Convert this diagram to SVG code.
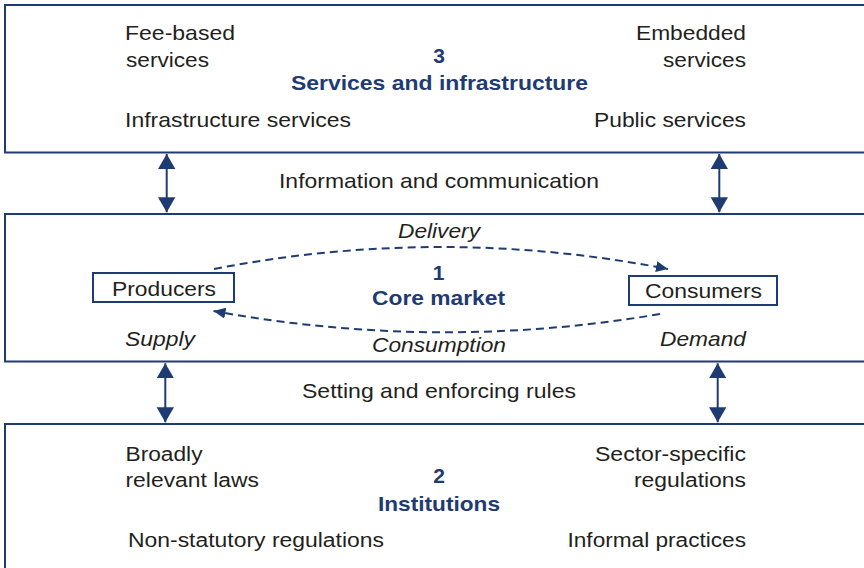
<svg xmlns="http://www.w3.org/2000/svg" width="864" height="568" viewBox="0 0 864 568">
<style>
.panel{fill:#fff;stroke:#1f3b73;stroke-width:2}
.actor{fill:#fff;stroke:#1f3b73;stroke-width:2}
.t{font-family:"Liberation Sans",Arial,sans-serif;font-size:21px;fill:#231f20}
.b{font-family:"Liberation Sans",Arial,sans-serif;font-size:21px;font-weight:bold;fill:#1f3b73}
.i{font-style:italic}
.s{font-size:20px}
.link{fill:none;stroke:#1f3b73;stroke-width:2}
.dash{fill:none;stroke:#1f3b73;stroke-width:2;stroke-dasharray:8 5}
</style>
<defs>
<marker id="big" markerUnits="userSpaceOnUse" markerWidth="15" markerHeight="18" refX="15" refY="8.7" orient="auto-start-reverse" viewBox="0 0 15 17.4">
<path d="M0,0 L15,8.7 L0,17.4 z" fill="#1f3b73"/>
</marker>
<marker id="small" markerUnits="userSpaceOnUse" markerWidth="12" markerHeight="11" refX="12" refY="5.5" orient="auto" viewBox="0 0 12 11">
<path d="M0,0 L12,5.5 L0,11 z" fill="#1f3b73"/>
</marker>
</defs>
<rect width="864" height="568" fill="#fff"/>

<g id="services">
<rect class="panel" x="5" y="5" width="870" height="147.5"/>
<text class="t" x="125" y="40" textLength="110" lengthAdjust="spacingAndGlyphs">Fee-based</text>
<text class="t" x="126" y="66.5" textLength="83" lengthAdjust="spacingAndGlyphs">services</text>
<text class="t" x="125" y="126.5" textLength="226" lengthAdjust="spacingAndGlyphs">Infrastructure services</text>
<text class="t" x="636" y="40" textLength="110" lengthAdjust="spacingAndGlyphs">Embedded</text>
<text class="t" x="663" y="66.5" textLength="83" lengthAdjust="spacingAndGlyphs">services</text>
<text class="t" x="594" y="126.5" textLength="152" lengthAdjust="spacingAndGlyphs">Public services</text>
<text class="b" x="439" y="63" text-anchor="middle">3</text>
<text class="b" x="291" y="90" textLength="297" lengthAdjust="spacingAndGlyphs">Services and infrastructure</text>
</g>

<g id="core-market">
<rect class="panel" x="5" y="214" width="870" height="147.5"/>
<text class="b" x="438.5" y="280" text-anchor="middle">1</text>
<text class="b" x="372" y="305" textLength="133" lengthAdjust="spacingAndGlyphs">Core market</text>
<text class="t i" x="125" y="346" textLength="70" lengthAdjust="spacingAndGlyphs">Supply</text>
<text class="t i" x="660" y="345.5" textLength="86" lengthAdjust="spacingAndGlyphs">Demand</text>
</g>

<g id="producers">
<rect class="actor" x="93" y="273" width="141" height="29"/>
<text class="t" x="112" y="296" textLength="104" lengthAdjust="spacingAndGlyphs">Producers</text>
</g>

<g id="consumers">
<rect class="actor" x="629" y="276" width="148" height="29"/>
<text class="t" x="645" y="297.5" textLength="117" lengthAdjust="spacingAndGlyphs">Consumers</text>
</g>

<g id="institutions">
<rect class="panel" x="5" y="424" width="870" height="160"/>
<text class="t s" x="125.5" y="461" textLength="77" lengthAdjust="spacingAndGlyphs">Broadly</text>
<text class="t s" x="125.5" y="487" textLength="133.5" lengthAdjust="spacingAndGlyphs">relevant laws</text>
<text class="t s" x="595" y="461" textLength="151" lengthAdjust="spacingAndGlyphs">Sector-specific</text>
<text class="t s" x="634" y="487" textLength="112" lengthAdjust="spacingAndGlyphs">regulations</text>
<text class="t s" x="128" y="547" textLength="256" lengthAdjust="spacingAndGlyphs">Non-statutory regulations</text>
<text class="t s" x="567.5" y="547" textLength="178.5" lengthAdjust="spacingAndGlyphs">Informal practices</text>
<text class="b" x="439" y="483" text-anchor="middle">2</text>
<text class="b" x="378" y="511" textLength="122" lengthAdjust="spacingAndGlyphs">Institutions</text>
</g>

<g id="connectors">
<line class="link" x1="166.7" y1="154" x2="166.7" y2="212.3" marker-start="url(#big)" marker-end="url(#big)"/>
<line class="link" x1="719.3" y1="154" x2="719.3" y2="212.3" marker-start="url(#big)" marker-end="url(#big)"/>
<line class="link" x1="165.3" y1="363.3" x2="165.3" y2="422.3" marker-start="url(#big)" marker-end="url(#big)"/>
<line class="link" x1="717.7" y1="363.3" x2="717.7" y2="422.3" marker-start="url(#big)" marker-end="url(#big)"/>
<path class="dash" d="M214,269 Q441,225 668,269" marker-end="url(#small)"/>
<path class="dash" d="M660,314 Q437,352 213.5,311" marker-end="url(#small)"/>
<text class="t" x="279" y="188" textLength="320" lengthAdjust="spacingAndGlyphs">Information and communication</text>
<text class="t" x="302" y="398" textLength="274" lengthAdjust="spacingAndGlyphs">Setting and enforcing rules</text>
<text class="t i" x="398" y="238" textLength="82" lengthAdjust="spacingAndGlyphs">Delivery</text>
<text class="t i" x="372" y="352" textLength="134" lengthAdjust="spacingAndGlyphs">Consumption</text>
</g>
</svg>
